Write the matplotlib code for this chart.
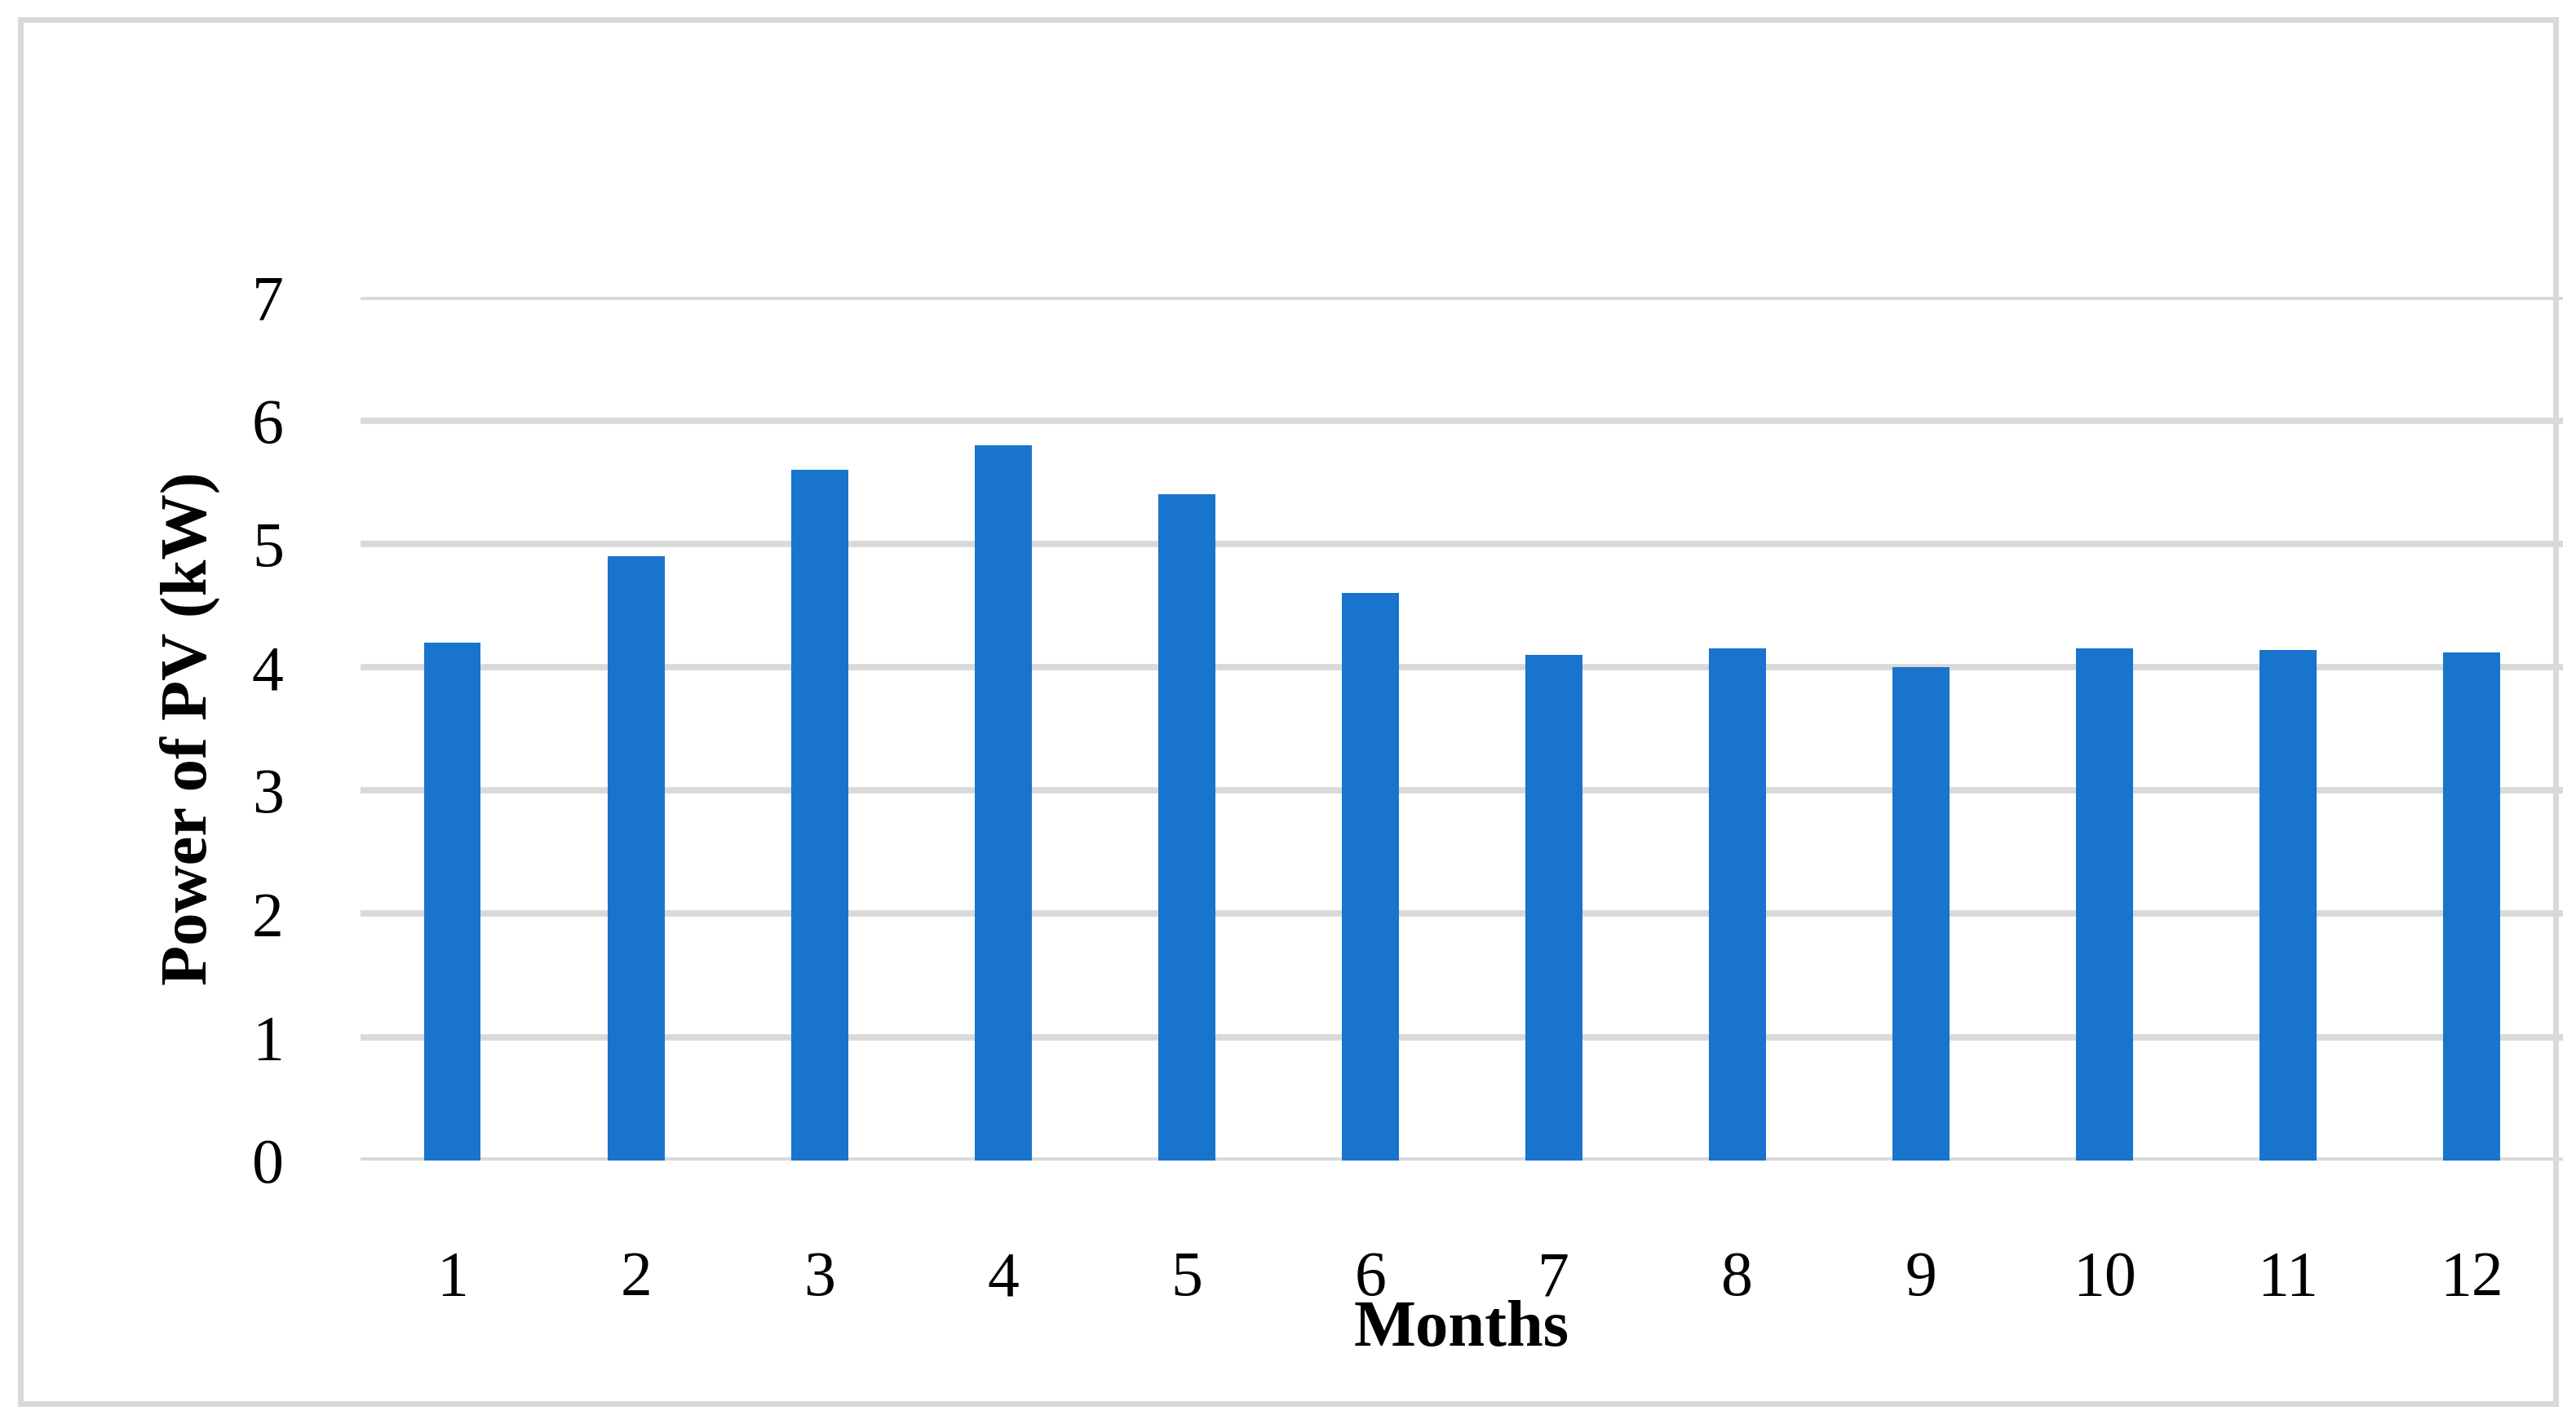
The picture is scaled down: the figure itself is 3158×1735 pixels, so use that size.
import matplotlib.pyplot as plt
from matplotlib.patches import Rectangle

months = [str(m) for m in range(1, 13)]
power_kw = [4.2, 4.9, 5.6, 5.8, 5.4, 4.6, 4.1, 4.15, 4.0, 4.15, 4.14, 4.12]

plt.rcParams['font.family'] = ['Liberation Serif', 'DejaVu Serif']

fig = plt.figure(figsize=(15.79, 8.675), dpi=200)
ax = fig.add_axes([0.140, 0.180, 0.855, 0.610])

# light grey frame around the whole figure
fig.patches.append(Rectangle((0.008, 0.008), 0.984, 0.978, transform=fig.transFigure,
                             fill=False, edgecolor='#d9d9d9', linewidth=2.5))

x = range(len(months))
ax.bar(x, power_kw, width=0.31, color='#1874cd', zorder=3)

ax.set_ylim(0, 7)
ax.set_xlim(-0.5, len(months) - 0.5)
ax.set_yticks(range(0, 8))
ax.set_xticks(list(x))
ax.set_xticklabels(months)
ax.yaxis.grid(True, color='#d9d9d9', linewidth=2.8, zorder=0)
ax.tick_params(axis='both', length=0, labelsize=28)
ax.tick_params(axis='x', pad=40)
ax.tick_params(axis='y', pad=34)
for s in ax.spines.values():
    s.set_visible(False)

ax.set_xlabel("Months", fontsize=29, fontweight='bold', labelpad=-4)
ax.set_ylabel("Power of PV (kW)", fontsize=29, fontweight='bold', labelpad=14)

fig.savefig("out.png", dpi=200)
